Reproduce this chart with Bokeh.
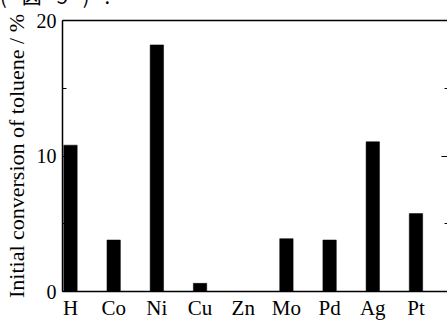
from bokeh.plotting import figure
from bokeh.models import Range1d, FixedTicker, LinearAxis, Div
from bokeh.layouts import column
from bokeh.embed import file_html
from bokeh.resources import INLINE

categories = ["H", "Co", "Ni", "Cu", "Zn", "Mo", "Pd", "Ag", "Pt"]
conversion = [10.8, 3.8, 18.2, 0.6, 0.0, 3.9, 3.8, 11.05, 5.75]
y_ticks = [0, 10, 20]
y_minor = [5, 15]
caption = "(図5)."

SERIF = "Liberation Serif"
xs = list(range(len(categories)))

CAP_H = 8
p = figure(width=447, height=322 - CAP_H, output_backend="svg", toolbar_location=None,
           x_range=Range1d(-0.185, 8.73), y_range=Range1d(0, 20),
           min_border_left=62, min_border_right=0, min_border_top=20 - CAP_H, min_border_bottom=0)
p.background_fill_color = "white"
p.border_fill_color = "white"
p.outline_line_color = None
p.grid.visible = False

p.vbar(x=xs, top=conversion, width=0.31, bottom=0, fill_color="black", line_color="black", line_width=0.5)

# x axis
xa = p.xaxis[0]
xa.ticker = FixedTicker(ticks=xs)
xa.major_label_overrides = {i: c for i, c in zip(xs, categories)}
xa.major_tick_in = 0
xa.major_tick_out = 0
xa.minor_tick_in = 0
xa.minor_tick_out = 0
xa.axis_line_color = "black"
xa.axis_line_width = 1.5
xa.major_label_text_font = SERIF
xa.major_label_text_font_size = "21px"
xa.major_label_text_line_height = 0.8
xa.major_label_text_color = "black"
xa.major_label_standoff = 4

# y axis
ya = p.yaxis[0]
ya.ticker = FixedTicker(ticks=y_ticks, minor_ticks=y_minor)
ya.major_tick_in = 6
ya.major_tick_out = 0
ya.minor_tick_in = 4
ya.minor_tick_out = 0
ya.axis_line_color = "black"
ya.axis_line_width = 1.5
ya.major_tick_line_color = "black"
ya.minor_tick_line_color = "black"
ya.major_label_text_font = SERIF
ya.major_label_text_font_size = "20px"
ya.major_label_text_color = "black"
ya.major_label_standoff = 6
ya.axis_label = "Initial conversion of toluene / %"
ya.axis_label_text_font = SERIF
ya.axis_label_text_font_size = "22px"
ya.axis_label_text_font_style = "normal"
ya.axis_label_text_color = "black"
ya.axis_label_standoff = 5

# right axis (ticks only)
ra = LinearAxis(ticker=FixedTicker(ticks=y_ticks, minor_ticks=y_minor))
ra.major_tick_in = 6
ra.major_tick_out = 0
ra.minor_tick_in = 3
ra.minor_tick_out = 0
ra.axis_line_color = None
ra.major_label_overrides = {t: "" for t in y_ticks}
ra.major_label_standoff = 0
p.add_layout(ra, "right")

# top axis (line only)
ta = LinearAxis(ticker=FixedTicker(ticks=[]))
ta.major_tick_in = 0
ta.major_tick_out = 0
ta.minor_tick_in = 0
ta.minor_tick_out = 0
ta.axis_line_color = "black"
ta.axis_line_width = 1.5
ta.major_label_standoff = 0
p.add_layout(ta, "above")

cap = Div(text='<div style="position:relative; top:-14px; height:0; overflow:visible; '
               'font-family:\'Noto Sans CJK JP\', sans-serif; font-size:20px; line-height:20px; '
               'letter-spacing:15px; white-space:nowrap; color:black;">' + caption + '</div>',
          width=140, height=CAP_H, margin=0, styles={"overflow": "visible"})

layout = column(cap, p, spacing=0)
open("out.html", "w").write(file_html(layout, INLINE))
